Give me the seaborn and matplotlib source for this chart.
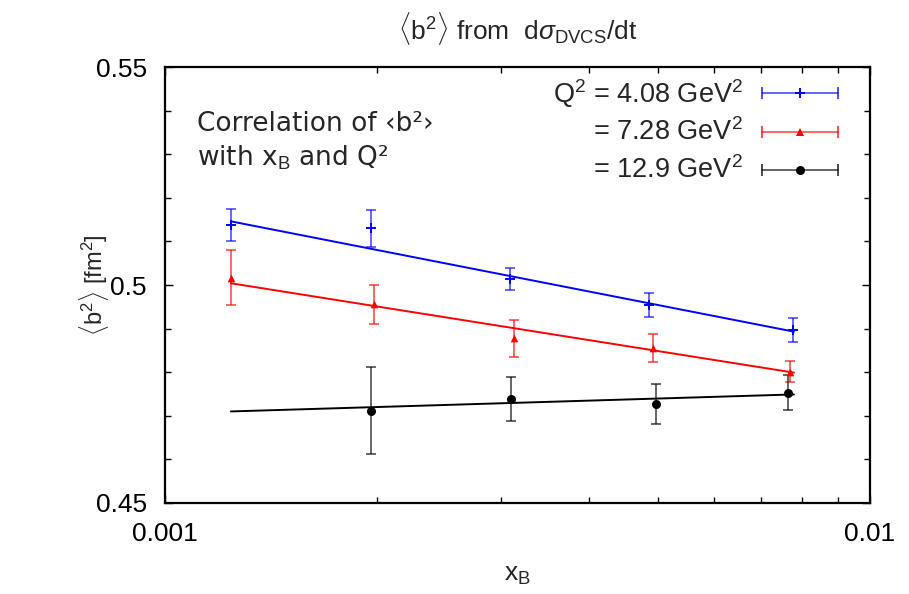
import matplotlib
matplotlib.use("Agg")
import matplotlib.pyplot as plt
import seaborn as sns
import pandas as pd
from matplotlib.ticker import FixedLocator, FixedFormatter, LogLocator, NullFormatter, MultipleLocator

# <b^2> (fm^2) against x_B for the three Q^2 bins
xb_q1 = [0.00124, 0.00196, 0.00309, 0.00486, 0.00778]
b2_q1 = [0.5138, 0.5130, 0.5014, 0.4954, 0.4897]
err_q1 = [0.0036, 0.0042, 0.0025, 0.0028, 0.0027]

xb_q2 = [0.00124, 0.00198, 0.00313, 0.00492, 0.00771]
b2_q2 = [0.5017, 0.4956, 0.4878, 0.4855, 0.4801]
err_q2 = [0.0063, 0.0045, 0.0042, 0.0032, 0.0024]

xb_q3 = [0.00196, 0.00310, 0.00497, 0.00765]
b2_q3 = [0.4712, 0.4739, 0.4727, 0.4753]
err_q3 = [0.0099, 0.0050, 0.0045, 0.0040]

# straight-line fits in log(x_B), given by their end points
fit_x = [0.00124, 0.00780]
fit_q1 = [0.5146, 0.4893]
fit_q2 = [0.5004, 0.4799]
fit_q3 = [0.4710, 0.4749]

legend_labels = [r"Q$^2$ = 4.08 GeV$^2$", r"= 7.28 GeV$^2$", r"= 12.9 GeV$^2$"]
y_ticks = [0.45, 0.5, 0.55]
y_ticklabels = ["0.45", "0.5", "0.55"]
x_ticks = [0.001, 0.01]
x_ticklabels = ["0.001", "0.01"]

sns.set_theme(style="ticks")
plt.rcParams["font.family"] = ["Liberation Sans", "DejaVu Sans"]
plt.rcParams["mathtext.fontset"] = "custom"
plt.rcParams["mathtext.rm"] = "Liberation Sans"
plt.rcParams["mathtext.it"] = "Liberation Sans:italic"
plt.rcParams["mathtext.bf"] = "Liberation Sans:bold"

fig = plt.figure(figsize=(9.09, 5.94), dpi=100)
ax = fig.add_axes([165 / 909, 1 - 503 / 594, 705 / 909, 436 / 594])

series = [
    (xb_q1, b2_q1, err_q1, fit_q1, "#0000ff", "+", 7),
    (xb_q2, b2_q2, err_q2, fit_q2, "#ff0000", "^", 5.5),
    (xb_q3, b2_q3, err_q3, fit_q3, "#000000", "o", 6.5),
]

for xs, ys, es, fit, col, mk, ms in series:
    fit_df = pd.DataFrame({"x": fit_x, "y": fit})
    sns.lineplot(data=fit_df, x="x", y="y", color=col, lw=1.4, ax=ax)
    ax.errorbar(xs, ys, yerr=es, fmt="none", ecolor=col, elinewidth=1.4,
                capsize=3.5, capthick=1.4, alpha=0.6, zorder=3)
    pts = pd.DataFrame({"x": xs, "y": ys})
    sns.scatterplot(data=pts, x="x", y="y", color=col, marker=mk, s=ms ** 2,
                    linewidth=1.4 if mk == "+" else 0, edgecolor=col, ax=ax, zorder=4)

ax.set_xscale("log")
ax.set_xlim(0.001, 0.01)
ax.set_ylim(0.45, 0.55)

ax.xaxis.set_major_locator(FixedLocator(x_ticks))
ax.xaxis.set_major_formatter(FixedFormatter(x_ticklabels))
ax.xaxis.set_minor_locator(LogLocator(base=10, subs=range(2, 10)))
ax.xaxis.set_minor_formatter(NullFormatter())
ax.yaxis.set_major_locator(FixedLocator(y_ticks))
ax.yaxis.set_major_formatter(FixedFormatter(y_ticklabels))
ax.yaxis.set_minor_locator(MultipleLocator(0.01))

ax.tick_params(which="both", direction="in", top=True, right=True, width=1.0,
               labelsize=19, colors="black")
ax.tick_params(axis="x", pad=14)
ax.tick_params(axis="y", pad=13)
ax.tick_params(which="major", length=6)
ax.tick_params(which="minor", length=4)
for sp in ax.spines.values():
    sp.set_linewidth(1.6)
    sp.set_color("black")

ax.set_xlabel(r"x$_\mathrm{B}$", fontsize=19, labelpad=12)
ax.set_ylabel(r"$\langle$b$^2\rangle$ [fm$^2$]", fontsize=17)
ax.yaxis.set_label_coords(-0.077, 0.5)
ax.set_title(r"$\langle$b$^2\rangle$ from  d$\sigma_\mathrm{DVCS}$/dt", fontsize=19, pad=20)

# key: text to the left, sample line with error caps to the right
rows_y = [0.9397, 0.8509, 0.7644]
for (xs, ys, es, fit, col, mk, ms), lab, yy in zip(series, legend_labels, rows_y):
    ax.text(0.820, yy, lab, transform=ax.transAxes, ha="right", va="center", fontsize=19.5)
    ax.plot([0.847, 0.955], [yy, yy], transform=ax.transAxes, color=col, lw=1.2, alpha=0.7)
    ax.plot([0.847, 0.955], [yy, yy], transform=ax.transAxes, ls="none", marker="|",
            ms=8, mew=1.4, color=col, alpha=0.7)
    ax.plot([0.901], [yy], transform=ax.transAxes, ls="none", marker=mk, ms=ms,
            mew=1.4 if mk == "+" else 0, color=col)

ax.text(0.045, 0.90, "Correlation of \u2039b\u00b2\u203a\nwith x$_\\mathrm{B}$ and Q\u00b2",
        transform=ax.transAxes, ha="left", va="top", fontsize=19,
        family=["DejaVu Sans"], linespacing=1.35)

fig.savefig("out.png", dpi=100)
